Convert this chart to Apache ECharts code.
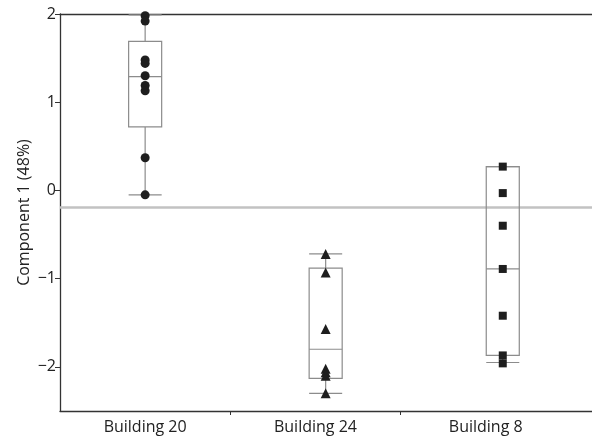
<!DOCTYPE html>
<html>
<head>
<meta charset="utf-8">
<script src="https://cdn.jsdelivr.net/npm/echarts@6/dist/echarts.min.js"></script>
<style>html,body{margin:0;padding:0;background:#fff}#c{width:592px;height:438px}</style>
</head>
<body>
<div id="c"></div>
<script>
// ---- data ----
const categories = ['Building 20', 'Building 24', 'Building 8'];
const yTicks = [-2, -1, 0, 1, 2];
// box stats: [min, Q1, median, Q3, max]
const box20 = [-0.05, 0.72, 1.29, 1.69, 1.99];
const box24 = [-2.30, -2.13, -1.80, -0.88, -0.72];
const box8  = [-1.95, -1.87, -0.89, 0.27, 0.27];
const points20 = [1.98, 1.92, 1.48, 1.44, 1.30, 1.19, 1.13, 0.37, -0.05];
const points24 = [-0.72, -0.93, -1.57, -2.02, -2.06, -2.10, -2.30];
const points8  = [0.27, -0.03, -0.40, -0.89, -1.42, -1.87, -1.96];
const refValue = -0.19;

// ---- layout helpers ----
const boxShift = [0, 0.06, 0.1];
const boxes = [box20, box24, box8];
const pointSets = [points20, points24, points8];
const symbols = ['circle', 'triangle', 'rect'];
const symbolSizes = [9, 10, 8];
const FONT = 'Open Sans';

const boxData = boxes.map((b, i) => [i + 0.5 + boxShift[i]].concat(b));

const chart = echarts.init(document.getElementById('c'), null, {renderer: 'canvas'});
const grey = '#8c8c8c';

const series = [];
series.push({
  type: 'custom',
  xAxisIndex: 0, yAxisIndex: 0,
  data: boxData,
  z: 2,
  renderItem: function (params, api) {
    const x = api.value(0);
    const mn = api.coord([x, api.value(1)]);
    const q1 = api.coord([x, api.value(2)]);
    const md = api.coord([x, api.value(3)]);
    const q3 = api.coord([x, api.value(4)]);
    const mx = api.coord([x, api.value(5)]);
    const w = api.size([0.194, 0])[0];
    const cx = mn[0];
    const st = {stroke: grey, lineWidth: 1.2, fill: null};
    return {
      type: 'group',
      children: [
        {type: 'rect', shape: {x: cx - w / 2, y: q3[1], width: w, height: q1[1] - q3[1]}, style: {stroke: grey, lineWidth: 1.2, fill: 'rgba(255,255,255,0)'}},
        {type: 'line', shape: {x1: cx - w / 2, y1: md[1], x2: cx + w / 2, y2: md[1]}, style: st},
        {type: 'line', shape: {x1: cx, y1: q3[1], x2: cx, y2: mx[1]}, style: st},
        {type: 'line', shape: {x1: cx, y1: q1[1], x2: cx, y2: mn[1]}, style: st},
        {type: 'line', shape: {x1: cx - w / 2, y1: mx[1], x2: cx + w / 2, y2: mx[1]}, style: st},
        {type: 'line', shape: {x1: cx - w / 2, y1: mn[1], x2: cx + w / 2, y2: mn[1]}, style: st}
      ]
    };
  }
});

pointSets.forEach((pts, i) => {
  series.push({
    type: 'scatter',
    xAxisIndex: 0, yAxisIndex: 0,
    symbol: symbols[i],
    symbolSize: symbolSizes[i],
    itemStyle: {color: '#1e1e1e', opacity: 1},
    z: 3,
    data: pts.map(v => [i + 0.5 + boxShift[i], v]),
    markLine: i === 0 ? {
      silent: true,
      symbol: 'none',
      label: {show: false},
      lineStyle: {color: '#c2c2c2', width: 2.5, type: 'solid'},
      data: [{yAxis: refValue}],
      z: 1
    } : undefined
  });
});

const xMax = 3.124;
chart.setOption({
  animation: false,
  backgroundColor: '#fff',
  textStyle: {fontFamily: FONT},
  grid: {left: 60, right: 0, top: 14, bottom: 27, containLabel: false},
  xAxis: [
    {
      type: 'value', min: 0, max: xMax, position: 'bottom',
      axisLine: {show: true, onZero: false, lineStyle: {color: '#333', width: 1.3}},
      axisTick: {show: true, length: 4, customValues: [1, 2], lineStyle: {color: '#333'}},
      axisLabel: {
        show: true, customValues: [0.5, 1.5, 2.5], margin: 8,
        fontFamily: FONT, fontSize: 16, color: '#222',
        formatter: v => categories[Math.floor(v)] || ''
      },
      splitLine: {show: false}
    },
    {
      type: 'value', min: 0, max: xMax, position: 'top',
      axisLine: {show: true, onZero: false, lineStyle: {color: '#333', width: 1.3}},
      axisTick: {show: false}, axisLabel: {show: false}, splitLine: {show: false}
    }
  ],
  yAxis: [{
    type: 'value', min: -2.5, max: 2, interval: 0.5,
    name: 'Component 1 (48%)', nameLocation: 'middle', nameGap: 28,
    nameMoveOverlap: false,
    nameTextStyle: {fontFamily: FONT, fontSize: 16, color: '#222'},
    axisLine: {show: true, onZero: false, lineStyle: {color: '#333', width: 1.3}},
    axisTick: {show: true, length: 5, customValues: yTicks, lineStyle: {color: '#333'}},
    axisLabel: {
      show: true, customValues: yTicks, margin: 4,
      fontFamily: FONT, fontSize: 16, color: '#222',
      formatter: v => String(v).replace('-', '\u2212')
    },
    splitLine: {show: false}
  }],
  series: series
});
</script>
</body>
</html>
